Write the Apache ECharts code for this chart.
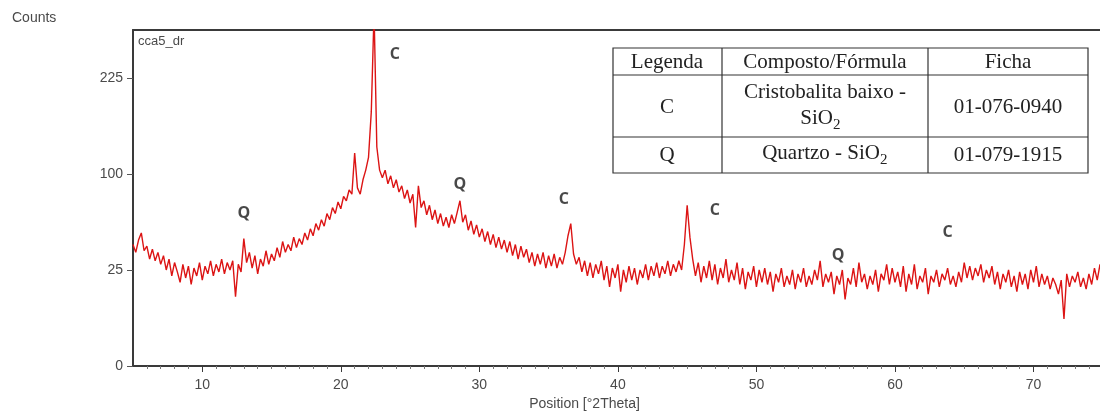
<!DOCTYPE html>
<html lang="pt">
<head>
    <meta charset="UTF-8">
    <title>cca5_dr</title>
    <script src="https://cdn.jsdelivr.net/npm/echarts@6/dist/echarts.min.js"></script>
    <style>
        body, html {
            margin: 0;
            width: 100%;
            height: 100%;
            background: #fff;
        }
        #chart {
            width: 1100px;
            height: 412px;
        }
    </style>
</head>
<body>
<div id="chart"></div>
<script>
    // scan: 2theta from 5.0, step 0.2
    const scanStart = 5.0;
    const scanStep = 0.2;

    // counts, one line per degree
    const counts = [
        40, 35, 43, 48, 36,
        39, 31, 37, 30, 35,
        28, 33, 25, 31, 22,
        29, 24, 19, 28, 21,
        27, 18, 26, 22, 29,
        20, 27, 23, 30, 22,
        28, 24, 31, 23, 29,
        25, 30, 13, 28, 24,
        44, 29, 35, 26, 33,
        23, 31, 27, 36, 28,
        34, 30, 38, 32, 42,
        35, 40, 36, 45, 38,
        44, 40, 48, 43, 51,
        46, 55, 50, 58, 53,
        63, 58, 68, 63, 73,
        67, 78, 74, 84, 80,
        123, 86, 80, 94, 104,
        118, 175, 340, 130, 104,
        96, 104, 90, 98, 86,
        94, 82, 88, 76, 84,
        72, 80, 52, 88, 68,
        74, 62, 70, 58, 66,
        55, 63, 53, 60, 52,
        62, 55, 64, 74, 56,
        62, 50, 57, 47, 54,
        45, 51, 42, 49, 40,
        47, 38, 45, 37, 43,
        35, 42, 33, 40, 31,
        39, 32, 37, 29, 35,
        27, 34, 28, 35, 26,
        33, 27, 34, 26, 32,
        28, 35, 46, 55, 34,
        28, 32, 24, 30, 22,
        29, 21, 28, 23, 30,
        20, 27, 17, 26, 21,
        28, 15, 25, 19, 27,
        20, 26, 18, 25, 21,
        28, 20, 27, 22, 29,
        21, 27, 23, 30, 22,
        28, 24, 30, 25, 40,
        70, 45, 31, 22, 29,
        19, 27, 21, 30, 20,
        28, 18, 26, 21, 31,
        19, 25, 20, 29, 18,
        26, 16, 24, 20, 27,
        17, 25, 19, 26, 18,
        24, 15, 23, 19, 26,
        17, 22, 18, 25, 16,
        23, 19, 26, 17, 22,
        18, 25, 20, 30, 17,
        23, 19, 24, 14, 22,
        18, 25, 12, 21, 18,
        26, 17, 29, 19, 23,
        16, 22, 18, 25, 15,
        23, 20, 28, 18, 26,
        19, 24, 17, 27, 15,
        23, 18, 28, 16, 22,
        19, 26, 14, 22, 19,
        25, 17, 23, 20, 26,
        18, 22, 17, 24, 19,
        29, 21, 27, 20, 26,
        22, 28, 19, 25, 21,
        27, 18, 24, 16, 23,
        19, 25, 17, 22, 15,
        24, 18, 23, 16, 25,
        19, 27, 17, 23, 18,
        22, 16, 21, 18, 14,
        20, 6, 23, 17, 22,
        19, 24, 17, 21, 16,
        23, 18, 26, 20, 28
    ];

    // axis: square-root count scale, labelled in counts
    const countTicks = [0, 25, 100, 225];
    const thetaLabels = [10, 20, 30, 40, 50, 60, 70];
    const thetaMin = 5;
    const thetaMax = 74.8;
    const countMax = 306;

    // peak markers: letter, 2theta, counts where the letter sits
    const peakLetters = ['C', 'Q', 'Q', 'C', 'C', 'Q', 'C'];
    const peakTheta = [23.9, 13.0, 28.6, 36.1, 47.0, 55.9, 63.8];
    const peakCounts = [263, 63, 89, 75, 66, 33, 48];

    // phase table
    const tableHead = ['Legenda', 'Composto/Fórmula', 'Ficha'];
    const tableCodes = ['C', 'Q'];
    const tableCards = ['01-076-0940', '01-079-1915'];

    let dom = document.getElementById('chart');
    let chart = echarts.init(dom);

    let lineData = counts.map(function (c, i) {
        return [scanStart + i * scanStep, Math.sqrt(c)];
    });

    const axisGray = '#3a3a3a';
    const labelFont = {color: '#4a4a4a', fontSize: 14, fontFamily: 'Liberation Sans, Arial, sans-serif'};
    const serif = '21px "Liberation Serif", "Times New Roman", serif';
    const serifSmall = '15px "Liberation Serif", "Times New Roman", serif';

    let options = {
        animation: false,
        grid: {left: 133, right: 0, top: 30, bottom: 46, outerBoundsMode: 'none', containLabel: false},
        xAxis: [{
            type: 'value',
            min: thetaMin,
            max: thetaMax,
            interval: 1,
            position: 'bottom',
            axisLine: {lineStyle: {color: axisGray, width: 2}},
            axisTick: {show: true, length: 3, lineStyle: {color: '#777'}},
            axisLabel: Object.assign({
                margin: 12,
                showMinLabel: false,
                showMaxLabel: false,
                formatter: function (v) {
                    return thetaLabels.indexOf(Math.round(v)) >= 0 && Math.abs(v - Math.round(v)) < 1e-6 ? String(Math.round(v)) : '';
                }
            }, labelFont),
            splitLine: {show: false},
            name: 'Position [°2Theta]',
            nameLocation: 'middle',
            nameGap: 30,
            nameTextStyle: Object.assign({padding: [0, 64, 0, 0]}, labelFont)
        }, {
            type: 'value',
            min: thetaMin,
            max: thetaMax,
            position: 'bottom',
            axisLine: {show: false},
            axisTick: {show: true, length: 6, customValues: thetaLabels, lineStyle: {color: axisGray}},
            axisLabel: {show: false},
            splitLine: {show: false}
        }, {
            type: 'value',
            min: thetaMin,
            max: thetaMax,
            position: 'top',
            axisLine: {lineStyle: {color: axisGray, width: 2}},
            axisTick: {show: false},
            axisLabel: {show: false},
            splitLine: {show: false}
        }],
        yAxis: {
            type: 'value',
            min: 0,
            max: Math.sqrt(countMax),
            axisLine: {show: true, lineStyle: {color: axisGray, width: 2}},
            axisTick: {show: true, length: 6, customValues: countTicks.map(Math.sqrt), lineStyle: {color: '#555'}},
            axisLabel: Object.assign({
                margin: 10,
                customValues: countTicks.map(Math.sqrt),
                formatter: function (v) {
                    return String(Math.round(v * v));
                }
            }, labelFont),
            splitLine: {show: false}
        },
        series: [{
            type: 'line',
            xAxisIndex: 0,
            data: lineData,
            showSymbol: false,
            clip: true,
            lineStyle: {color: '#dc1414', width: 1.4},
            z: 3
        }, {
            type: 'scatter',
            xAxisIndex: 0,
            symbolSize: 0,
            silent: true,
            data: peakTheta.map(function (t, i) {
                return {value: [t, Math.sqrt(peakCounts[i])], letter: peakLetters[i]};
            }),
            label: {
                show: true,
                position: 'inside',
                formatter: function (p) {
                    return p.data.letter;
                },
                color: '#1a1a1a',
                fontSize: 16,
                fontWeight: 'bold',
                fontFamily: 'Open Sans, Liberation Sans, sans-serif'
            }
        }],
        graphic: []
    };

    // top-left texts
    options.graphic.push({
        type: 'text', x: 12, y: 18,
        style: {text: 'Counts', font: '14px "Liberation Sans", Arial, sans-serif', fill: '#4a4a4a', verticalAlign: 'middle'}
    });
    options.graphic.push({
        type: 'text', x: 138, y: 41,
        style: {text: 'cca5_dr', font: '13px "Liberation Sans", Arial, sans-serif', fill: '#4a4a4a', verticalAlign: 'middle'}
    });

    // phase table
    const tx = [613, 722, 928, 1088];
    const ty = [48, 75, 137, 173];
    const colMid = [667, 825, 1008];
    let cells = [];
    cells.push({type: 'rect', shape: {x: tx[0], y: ty[0], width: tx[3] - tx[0], height: ty[3] - ty[0]},
        style: {fill: '#fff', stroke: '#333', lineWidth: 1.2}});
    [1, 2].forEach(function (i) {
        cells.push({type: 'line', shape: {x1: tx[i], y1: ty[0], x2: tx[i], y2: ty[3]}, style: {stroke: '#333', lineWidth: 1.2}});
        cells.push({type: 'line', shape: {x1: tx[0], y1: ty[i], x2: tx[3], y2: ty[i]}, style: {stroke: '#333', lineWidth: 1.2}});
    });
    function cellText(text, x, y, font, align) {
        return {type: 'text', x: x, y: y,
            style: {text: text, font: font || serif, fill: '#222', align: align || 'center', verticalAlign: 'middle'}};
    }
    tableHead.forEach(function (h, i) {
        cells.push(cellText(h, colMid[i], 62));
    });
    cells.push(cellText(tableCodes[0], colMid[0], 107));
    cells.push(cellText('Cristobalita baixo -', colMid[1], 92));
    cells.push(cellText('SiO', 833, 118, serif, 'right'));
    cells.push(cellText('2', 833, 125, serifSmall, 'left'));
    cells.push(cellText(tableCards[0], colMid[2], 107));
    cells.push(cellText(tableCodes[1], colMid[0], 155));
    cells.push(cellText('Quartzo - SiO', 880, 153, serif, 'right'));
    cells.push(cellText('2', 880, 160, serifSmall, 'left'));
    cells.push(cellText(tableCards[1], colMid[2], 155));
    options.graphic.push({type: 'group', z: 10, children: cells});

    chart.setOption(options);

    window.addEventListener('resize', function () {
        chart.resize();
    });
</script>
</body>
</html>
